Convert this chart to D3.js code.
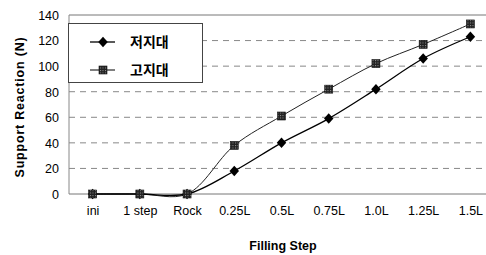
<!DOCTYPE html>
<html><head><meta charset="utf-8">
<script src="https://cdn.jsdelivr.net/npm/d3@7/dist/d3.min.js"></script>
<style>body{margin:0;background:#fff}svg{display:block}</style>
</head><body>
<svg id="c" width="486" height="255"></svg>
<script>
const categories = ["ini","1 step","Rock","0.25L","0.5L","0.75L","1.0L","1.25L","1.5L"];
const lowland = [0,0,0,18,40,59,82,106,123];   // 저지대
const highland = [0,0,0,38,61,82,102,117,133]; // 고지대
const yTicks = [0,20,40,60,80,100,120,140];
const seriesNames = ["저지대","고지대"];

(function(){
const svg = d3.select("#c");
const pLeft = 69, pRight = 494, pTop = 15, pBottom = 194;
const x = d3.scalePoint().domain(categories).range([pLeft, pRight]).padding(0.5);
const y = d3.scaleLinear().domain([0,140]).range([pBottom, pTop]);
const font = "'Liberation Sans', Arial, sans-serif";

const defs = svg.append("defs");
const pat = defs.append("pattern").attr("id","hatch").attr("width",2.5).attr("height",2.5).attr("patternUnits","userSpaceOnUse");
pat.append("rect").attr("width",2.5).attr("height",2.5).attr("fill","#222");
pat.append("rect").attr("width",1).attr("height",1).attr("fill","#999");

// grid
svg.append("g").selectAll("line").data(yTicks.filter(d=>d>0 && d<140)).join("line")
  .attr("x1",pLeft).attr("x2",486).attr("y1",d=>y(d)).attr("y2",d=>y(d))
  .attr("stroke","#888").attr("stroke-width",1).attr("stroke-dasharray","6,5");
svg.append("line").attr("x1",pLeft).attr("x2",486).attr("y1",y(140)).attr("y2",y(140)).attr("stroke","#777");
svg.append("line").attr("x1",pLeft).attr("x2",486).attr("y1",y(0)).attr("y2",y(0)).attr("stroke","#777");
svg.append("line").attr("x1",pLeft).attr("x2",pLeft).attr("y1",y(140)).attr("y2",y(0)).attr("stroke","#888");

// y axis labels
const yAxis = d3.axisLeft(y).tickValues(yTicks).tickSize(0).tickPadding(0);
const ya = svg.append("g").attr("transform",`translate(${pLeft-10},0)`).call(yAxis);
ya.select(".domain").remove();
ya.selectAll("text").attr("font-family",font).attr("font-size",12.5).attr("fill","#000").attr("dy","0.35em");

// x axis labels
const xAxis = d3.axisBottom(x).tickSize(0).tickPadding(0);
const xa = svg.append("g").attr("transform",`translate(0,${y(0)+17})`).call(xAxis);
xa.select(".domain").remove();
xa.selectAll("text").attr("font-family",font).attr("font-size",12.5).attr("fill","#000").attr("dy","0.35em");

// titles
svg.append("text").attr("transform","translate(24,107) rotate(-90)").attr("text-anchor","middle")
  .attr("font-family",font).attr("font-weight","bold").attr("font-size",12.5).attr("letter-spacing",0.8)
  .text("Support Reaction (N)");
svg.append("text").attr("x",283).attr("y",250).attr("text-anchor","middle")
  .attr("font-family",font).attr("font-weight","bold").attr("font-size",12.5)
  .text("Filling Step");

// lines
const line = d3.line().x((d,i)=>x(categories[i])).y(d=>y(d)).curve(d3.curveCatmullRom.alpha(0.5));
svg.append("path").datum(highland).attr("d",line).attr("fill","none").attr("stroke","#222").attr("stroke-width",1);
svg.append("path").datum(lowland).attr("d",line).attr("fill","none").attr("stroke","#000").attr("stroke-width",1.3);

const rhombus = {draw(ctx, size){ const r = Math.sqrt(size/2); ctx.moveTo(0,-r*1.05); ctx.lineTo(r*0.95,0); ctx.lineTo(0,r*1.05); ctx.lineTo(-r*0.95,0); ctx.closePath(); }};
const diamond = d3.symbol().type(rhombus).size(50);
svg.append("g").selectAll("path").data(lowland).join("path")
  .attr("transform",(d,i)=>`translate(${x(categories[i])},${y(d)})`).attr("d",diamond).attr("fill","#000");
svg.append("g").selectAll("rect").data(highland).join("rect")
  .attr("x",(d,i)=>x(categories[i])-4).attr("y",d=>y(d)-4).attr("width",8).attr("height",8)
  .attr("fill","url(#hatch)").attr("stroke","#111").attr("stroke-width",0.6);

// legend
const lg = svg.append("g");
lg.append("rect").attr("x",68.5).attr("y",23.5).attr("width",134).attr("height",59).attr("fill","#fff").attr("stroke","#444");
const ly = [42, 70];
lg.selectAll("line.s").data(seriesNames).join("line").attr("x1",90).attr("x2",115).attr("y1",(d,i)=>ly[i]).attr("y2",(d,i)=>ly[i]).attr("stroke","#000").attr("stroke-width",(d,i)=>i?1:1.3);
lg.append("path").attr("transform",`translate(103,${ly[0]})`).attr("d",diamond).attr("fill","#000");
lg.append("rect").attr("x",99).attr("y",ly[1]-4).attr("width",8).attr("height",8).attr("fill","url(#hatch)").attr("stroke","#111").attr("stroke-width",0.6);
lg.selectAll("text.t").data(seriesNames).join("text").attr("x",130).attr("y",(d,i)=>ly[i]).attr("dy","0.35em")
  .attr("font-family","'Noto Sans CJK KR', sans-serif").attr("font-weight","bold").attr("font-size",14).text(d=>d);
})();
</script>
</body></html>
